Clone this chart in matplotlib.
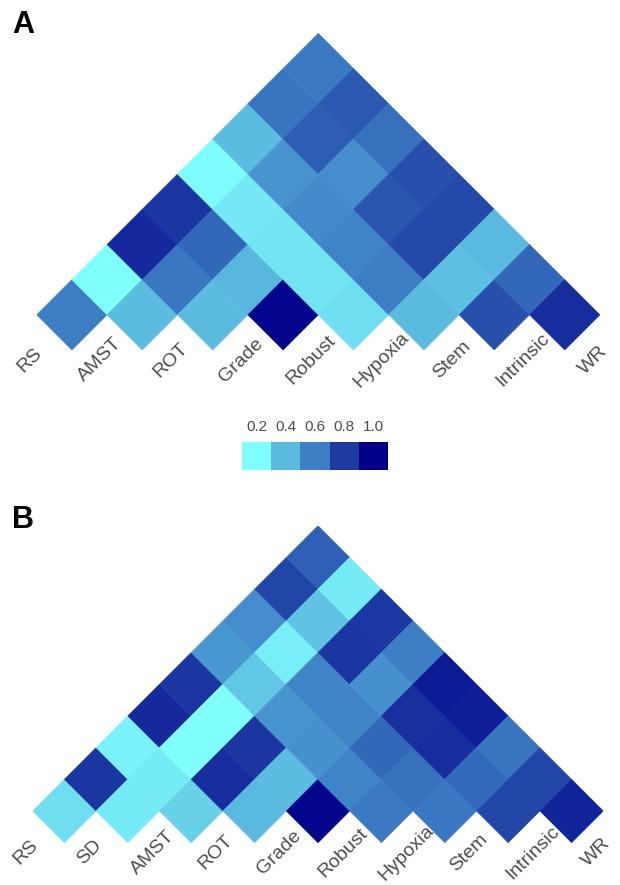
import matplotlib
matplotlib.use("Agg")
import matplotlib.pyplot as plt
import numpy as np
from matplotlib.collections import PolyCollection
from matplotlib.colors import LinearSegmentedColormap, Normalize

# Panel A: 9 signatures, upper triangle row by row (row i holds pairs i-j, j > i)
labels_a = ["RS", "AMST", "ROT", "Grade", "Robust", "Hypoxia", "Stem", "Intrinsic", "WR"]
rows_a = [
    [0.60, 0.20, 0.86, 0.82, 0.21, 0.40, 0.63, 0.61],
    [0.40, 0.62, 0.67, 0.27, 0.53, 0.70, 0.71],
    [0.40, 0.42, 0.28, 0.56, 0.55, 0.64],
    [0.98, 0.28, 0.58, 0.72, 0.74],
    [0.30, 0.60, 0.76, 0.76],
    [0.40, 0.39, 0.41],
    [0.74, 0.67],
    [0.85],
]

# Panel B: 10 signatures
labels_b = ["RS", "SD", "AMST", "ROT", "Grade", "Robust", "Hypoxia", "Stem", "Intrinsic", "WR"]
rows_b = [
    [0.30, 0.82, 0.24, 0.86, 0.82, 0.52, 0.55, 0.77, 0.69],
    [0.26, 0.26, 0.20, 0.20, 0.37, 0.25, 0.38, 0.26],
    [0.34, 0.85, 0.82, 0.53, 0.58, 0.82, 0.81],
    [0.41, 0.40, 0.54, 0.58, 0.54, 0.60],
    [0.98, 0.58, 0.67, 0.84, 0.91],
    [0.61, 0.64, 0.85, 0.90],
    [0.62, 0.66, 0.63],
    [0.77, 0.77],
    [0.88],
]

legend_ticks = [0.2, 0.4, 0.6, 0.8, 1.0]

cmap = LinearSegmentedColormap.from_list(
    "cyanblue", ["#80ffff", "#5cbce0", "#3d7ec5", "#1e3ca3", "#00008b"])
norm = Normalize(vmin=0.2, vmax=1.0)

W, H = 620, 885
fig = plt.figure(figsize=(W / 100, H / 100), dpi=100)
plt.rcParams['font.family'] = ['Liberation Sans', 'DejaVu Sans']


def px_axes(x0, y0, x1, y1):
    # pixel box (top-left origin) -> figure axes
    return fig.add_axes([x0 / W, 1 - y1 / H, (x1 - x0) / W, (y1 - y0) / H])


def draw_triangle(ax, labels, rows, unit_px):
    n = len(labels)
    polys, vals = [], []
    for i, row in enumerate(rows):
        for k, v in enumerate(row):
            j = i + 1 + k
            cx, cy = (i + j) / 2, (j - i) / 2
            polys.append([(cx - 0.5, cy), (cx, cy + 0.5), (cx + 0.5, cy), (cx, cy - 0.5)])
            vals.append(v)
    pc = PolyCollection(polys, array=np.array(vals), cmap=cmap, norm=norm,
                        edgecolors='face', linewidths=0.4)
    ax.add_collection(pc)
    ax.set_xlim(0, n - 1)
    ax.set_ylim(0, n / 2)
    ax.set_axis_off()
    # labels centred a little left of / below each variable's diagonal point
    for i, lab in enumerate(labels):
        ax.text(i - 7 / unit_px, -10 / unit_px, lab, rotation=45, rotation_mode='anchor',
                ha='center', va='center', fontsize=14, color='#4d4d4d', clip_on=False)


ax_a = px_axes(36.7, 33.3, 599.9, 350.0)
draw_triangle(ax_a, labels_a, rows_a, 70.4)

ax_b = px_axes(32.7, 525.7, 603.3, 842.7)
draw_triangle(ax_b, labels_b, rows_b, 63.4)

# discrete legend
ax_l = px_axes(242, 442, 388, 470)
ax_l.imshow(np.array([legend_ticks]), cmap=cmap, norm=norm, aspect='auto',
            extent=(0, len(legend_ticks), 0, 1))
ax_l.set_xlim(0, len(legend_ticks))
ax_l.set_ylim(0, 1)
ax_l.set_axis_off()
for k, t in enumerate(legend_ticks):
    ax_l.text(k + 0.5, 1.3, f"{t:.1f}", ha='center', va='bottom',
              fontsize=11, color='#4d4d4d')

fig.text(12 / W, 1 - 10 / H, "A", fontsize=22, fontweight='bold', va='top', ha='left')
fig.text(12 / W, 1 - 505 / H, "B", fontsize=22, fontweight='bold', va='top', ha='left')

fig.savefig("out.png", dpi=100)
